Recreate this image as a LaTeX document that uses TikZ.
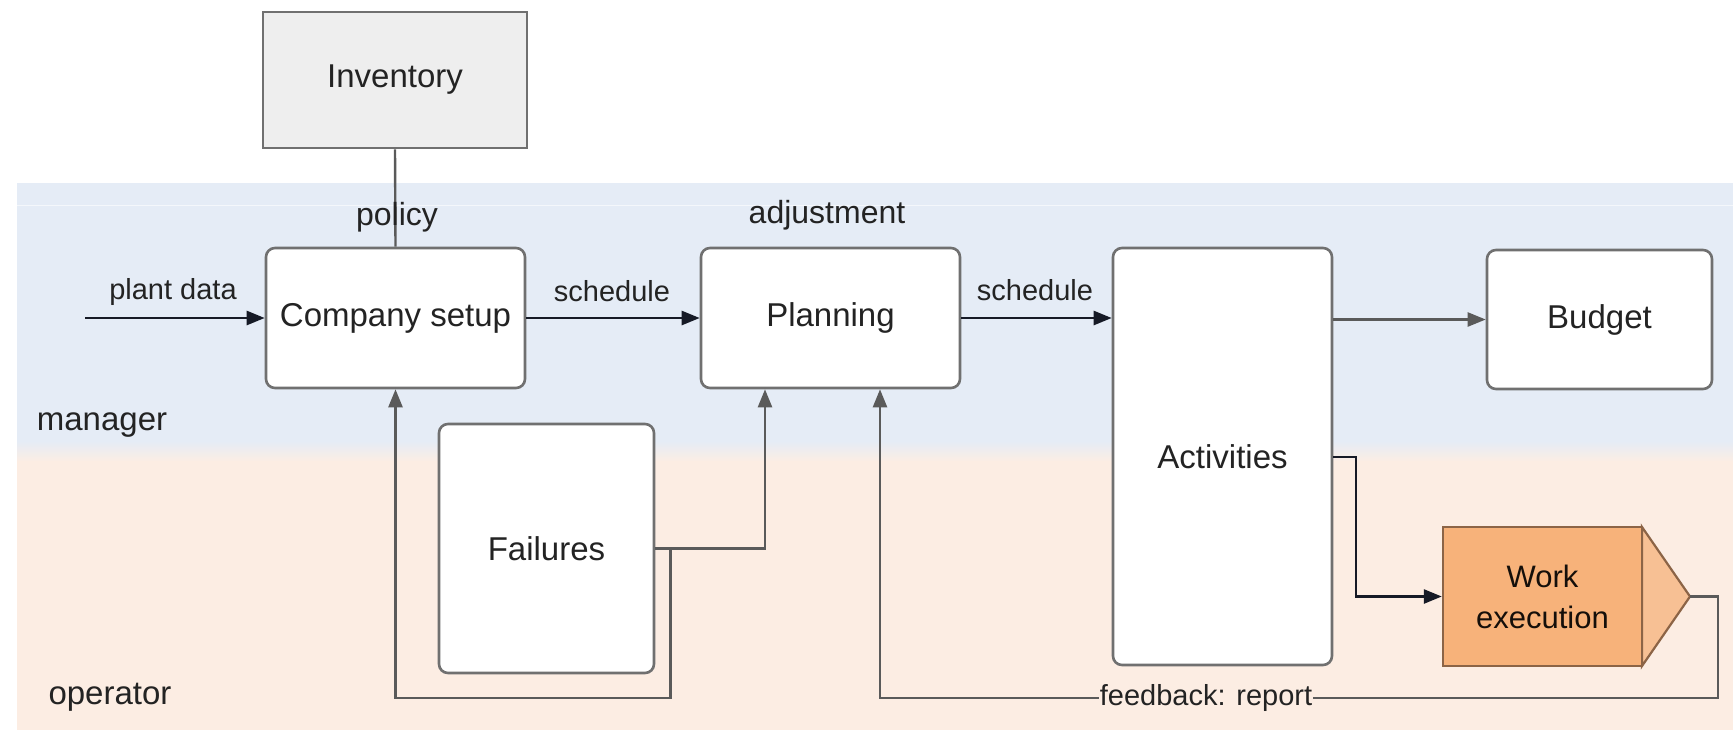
\documentclass[tikz,border=0pt]{standalone}
\usepackage{fontspec}
\setmainfont{Liberation Sans}
\usetikzlibrary{arrows.meta,calc}
\definecolor{bandblue}{RGB}{229,236,246}
\definecolor{bandorange}{RGB}{252,237,227}
\definecolor{boxline}{RGB}{112,112,112}
\definecolor{conn}{RGB}{22,26,38}
\definecolor{workfill}{RGB}{247,178,122}
\definecolor{worktip}{RGB}{247,192,148}
\definecolor{workline}{RGB}{140,100,70}
\definecolor{invfill}{RGB}{238,238,238}
\definecolor{txt}{RGB}{35,35,35}
\tikzset{
  procbox/.style={draw=boxline,line width=2.6pt,fill=white,rounded corners=9pt,
    inner sep=0pt,font=\fontsize{33}{38}\selectfont,align=center,text=txt},
  invbox/.style={draw=boxline,line width=2.6pt,fill=invfill,inner sep=0pt,
    font=\fontsize{33}{38}\selectfont,text=txt},
  conline/.style={draw=conn,line width=2.6pt},
  grayline/.style={draw=boxline!80!black,line width=2.4pt},
  arr/.style={-{Triangle[length=18pt,width=14pt]}},
  elabel/.style={font=\fontsize{29}{34}\selectfont,inner sep=1pt,text=txt},
  lane/.style={font=\fontsize{33}{38}\selectfont,inner sep=0pt,text=txt}
}
\begin{document}
\begin{tikzpicture}[x=1pt,y=-1pt]
\useasboundingbox (0,0) rectangle (1733,732);
\fill[white] (0,0) rectangle (1733,732);
% lanes
\fill[bandblue] (17,183) rectangle (1733,442);
\shade[top color=bandblue,bottom color=bandorange] (17,441) rectangle (1733,462);
\fill[bandorange] (17,461) rectangle (1733,730);
\draw[white,line width=1pt,opacity=0.6] (17,205) -- (1733,205);
\node[lane] (mgr) at (102,425) {manager};
\node[lane] (opr) at (110,697) {operator};
% nodes
\node[invbox,minimum width=264pt,minimum height=136pt] (inv) at (395,80) {Inventory};
\node[procbox,minimum width=259pt,minimum height=140pt] (comp) at (395.5,318) {Company setup};
\node[procbox,minimum width=259pt,minimum height=140pt] (plan) at (830.5,318) {Planning};
\node[procbox,minimum width=219pt,minimum height=417pt] (act) at (1222.5,456.5) {Activities};
\node[procbox,minimum width=225pt,minimum height=139pt] (bud) at (1599.5,319.5) {Budget};
\node[procbox,minimum width=215pt,minimum height=249pt] (fail) at (546.5,548.5) {Failures};
% work execution
\fill[worktip,draw=workline,line width=2.2pt,line join=miter] (1642,527) -- (1690,596.5) -- (1642,666) -- cycle;
\node[draw=workline,line width=2.4pt,fill=workfill,minimum width=199pt,minimum height=139pt,
  inner sep=0pt,align=center,font=\fontsize{31}{41}\selectfont,text=black!85!workline] (work) at (1542.5,596.5) {Work\\execution};
\coordinate (worktipc) at (1690,596.5);
% helper coordinates
\coordinate (pd) at (85,318);
\coordinate (fb) at (0,698);
\coordinate (fbx) at (1718,0);
% connectors
\draw[grayline] (inv.south) -- (comp.north);
\node[elabel,font=\fontsize{32}{36}\selectfont] (pol) at (397,217) {policy};
\node[elabel,font=\fontsize{32}{36}\selectfont] (adj) at (827,215) {adjustment};
\draw[conline,arr] (pd) -- (comp.west);
\node[elabel] (pdl) at (173,292) {plant data};
\draw[conline,arr] (comp.east) -- (plan.west);
\node[elabel] (sch1) at (612,291) {schedule};
\draw[conline,arr] (plan.east) -- (act.west |- plan.east);
\node[elabel] (sch2) at (1035,290) {schedule};
\draw[grayline,arr] (act.east |- bud.west) -- (bud.west);
\draw[conline,arr] (act.east |- 0,457) -- (1356,457) |- (work.west);
\draw[grayline,arr] (fail.east) -| ([xshift=-65.5pt]plan.south);
\draw[grayline,arr] (fail.east) -- ++(15,0) |- (comp.south |- fb) -- (comp.south);
\draw[grayline,arr] (worktipc) -- (fbx |- worktipc) -- (fbx |- fb) -| ([xshift=49.5pt]plan.south);
\node[elabel,fill=bandorange] (fbl) at (1206,698) {feedback: report};
\end{tikzpicture}
\end{document}
